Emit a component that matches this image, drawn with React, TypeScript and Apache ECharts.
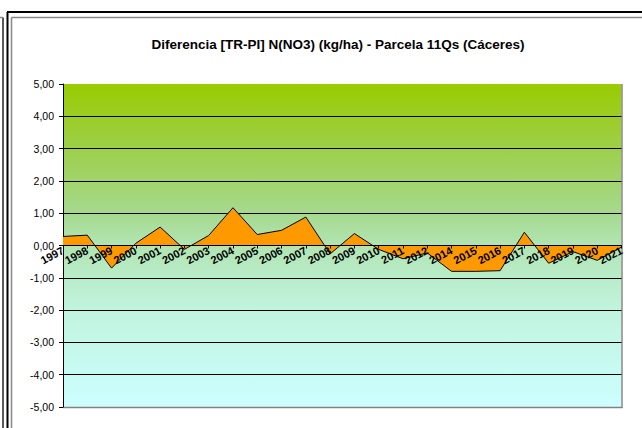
import React, { useEffect, useRef } from "react";
import * as echarts from "echarts";

const years = ["1997","1998","1999","2000","2001","2002","2003","2004","2005","2006","2007","2008","2009","2010","2011","2012","2014","2015","2016","2017","2018","2019","2020","2021"];
const diffValues = [0.28,0.32,-0.70,0.07,0.57,-0.12,0.31,1.17,0.34,0.47,0.88,-0.26,0.37,-0.12,-0.41,-0.23,-0.80,-0.80,-0.78,0.41,-0.55,-0.19,-0.46,-0.05];
const yMin = -5;
const yMax = 5;
const yInterval = 1;
const titleText = "Diferencia [TR-PI] N(NO3) (kg/ha) - Parcela 11Qs (Cáceres)";

export default function App() {
  const ref = useRef<HTMLDivElement>(null);
  useEffect(() => {
    if (!ref.current) return;
    const chart = echarts.init(ref.current, null, { renderer: "svg" });
    const splitColors: string[] = [];
    const n = Math.round((yMax - yMin) / yInterval) + 1;
    for (let i = 0; i < n; i++) {
      if (i === 0) splitColors.push("#808080");
      else if (i === n - 1) splitColors.push("rgba(0,0,0,0)");
      else splitColors.push("#000000");
    }
    const H = 428, W = 642;
    const grid = { left: 63, right: 20.5, top: 84, bottom: 21 };
    const plotH = H - grid.top - grid.bottom;
    const zeroOffset = -plotH * (0 - yMin) / (yMax - yMin);
    chart.setOption({
      animation: false,
      backgroundColor: "#ffffff",
      textStyle: { fontFamily: "Liberation Sans, Arial, sans-serif" },
      grid: {
        ...grid,
        show: true,
        borderWidth: 0,
        backgroundColor: {
          type: "linear", x: 0, y: 0, x2: 0, y2: 1,
          colorStops: [
            { offset: 0, color: "#99CC00" },
            { offset: 0.2, color: "#9DCF4A" },
            { offset: 0.4, color: "#A6D98E" },
            { offset: 0.5, color: "#B1E5B3" },
            { offset: 0.7, color: "#C1F4DE" },
            { offset: 1, color: "#CCFFFF" },
          ],
        },
      },
      graphic: [
        { type: "line", shape: { x1: 7, y1: 12, x2: W, y2: 12 }, style: { stroke: "#000", lineWidth: 2 } },
        { type: "line", shape: { x1: 7.5, y1: 12, x2: 7.5, y2: H }, style: { stroke: "#000", lineWidth: 2 } },
        { type: "line", shape: { x1: 11.5, y1: 17.5, x2: W, y2: 17.5 }, style: { stroke: "#888", lineWidth: 1.5 } },
        { type: "line", shape: { x1: 11.5, y1: 17.5, x2: 11.5, y2: H }, style: { stroke: "#888", lineWidth: 1.5 } },
        { type: "line", shape: { x1: 3, y1: 17.5, x2: 3, y2: H }, style: { stroke: "#222", lineWidth: 1.5 } },
        { type: "line", shape: { x1: 0, y1: 17.5, x2: 3, y2: 17.5 }, style: { stroke: "#888", lineWidth: 1.5 } },
        { type: "line", shape: { x1: 622, y1: 84, x2: 622, y2: 408 }, style: { stroke: "#888", lineWidth: 1.5 } },
        { type: "line", shape: { x1: 63, y1: 407.5, x2: 622.5, y2: 407.5 }, style: { stroke: "#888", lineWidth: 1.5 } },
        {
          type: "text", x: 338, y: 44,
          style: {
            text: titleText, fill: "#000", font: "bold 13.5px 'Liberation Sans', Arial, sans-serif",
            textAlign: "center", textVerticalAlign: "middle",
          },
        },
      ],
      xAxis: {
        type: "category",
        data: years,
        boundaryGap: false,
        offset: zeroOffset,
        z: 10,
        axisLine: { onZero: false, lineStyle: { color: "#000", width: 1 } },
        axisTick: { show: true, length: 3, inside: false, alignWithLabel: true, lineStyle: { color: "#000" } },
        axisLabel: {
          interval: 0, rotate: 28, margin: 4, color: "#000",
          fontSize: 11, fontWeight: "bold", fontFamily: "Liberation Sans, Arial, sans-serif",
        },
        splitLine: { show: false },
      },
      yAxis: {
        type: "value",
        min: yMin, max: yMax, interval: yInterval,
        axisLine: { show: true, lineStyle: { color: "#000", width: 1 } },
        axisTick: { show: true, length: 4, lineStyle: { color: "#000" } },
        axisLabel: {
          margin: 9, color: "#000", fontSize: 10.5, fontFamily: "Liberation Sans, Arial, sans-serif",
          formatter: (v: number) => v.toFixed(2).replace(".", ","),
        },
        splitLine: { show: true, lineStyle: { color: splitColors, width: 1 } },
      },
      series: [
        {
          type: "line",
          data: diffValues,
          symbol: "none",
          lineStyle: { color: "#000", width: 1 },
          areaStyle: { color: "#FF9900", opacity: 1, origin: 0 },
          z: 3,
        },
      ],
    });
    return () => chart.dispose();
  }, []);
  return <div ref={ref} style={{ position: "fixed", left: 0, top: 0, width: 642, height: 428 }} />;
}
